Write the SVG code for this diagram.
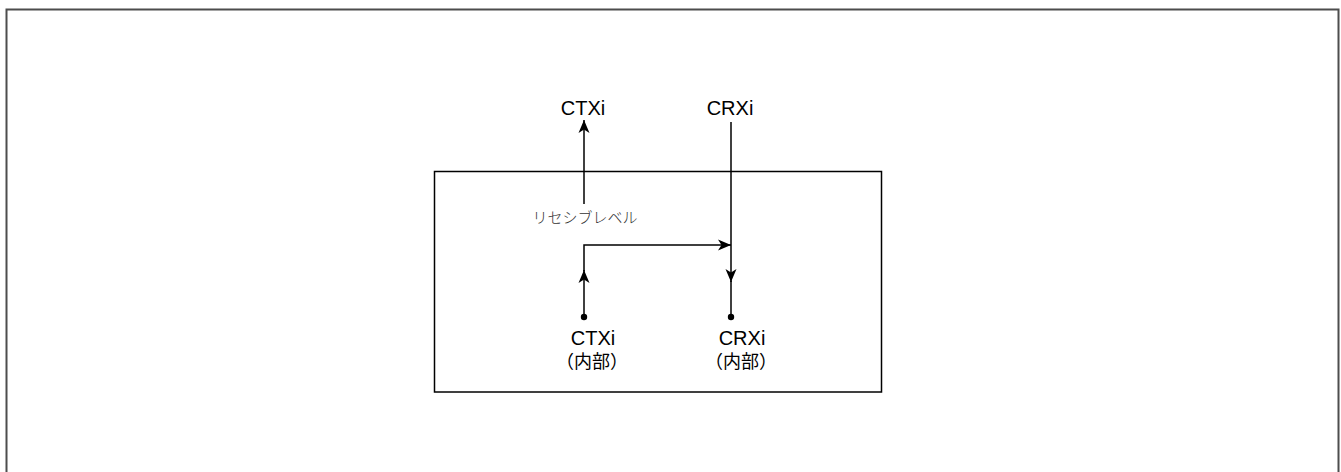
<svg xmlns="http://www.w3.org/2000/svg" width="1341" height="472" viewBox="0 0 1341 472">
<style>
.lbl{font-family:"Liberation Sans",Arial,sans-serif;font-size:20px;fill:#000;text-anchor:middle}
.jp{font-family:"Noto Sans CJK JP","Liberation Sans",sans-serif;font-size:18px;fill:#000;text-anchor:middle}
.jps{font-family:"Noto Sans CJK JP","Liberation Sans",sans-serif;font-size:15px;fill:#333;text-anchor:middle;font-weight:300}
.wire{stroke:#000;stroke-width:1.5;fill:none}
</style>
<defs>
<marker id="arr" viewBox="0 -7 14 14" refX="13" refY="0" markerWidth="14" markerHeight="14" markerUnits="userSpaceOnUse" orient="auto">
<path d="M0,-5.5 L13,0 L0,5.5 L3.5,0 Z" fill="#000"/>
</marker>
</defs>
<rect id="frame" x="6.5" y="9.5" width="1332" height="480" fill="none" stroke="#4d4d4d" stroke-width="2"/>
<g id="block"><rect x="434.5" y="171.5" width="447" height="220.5" fill="none" stroke="#000" stroke-width="1.5"/></g>
<g id="ctxi-out"><text class="lbl" x="583" y="115">CTXi</text></g>
<g id="crxi-in"><text class="lbl" x="730" y="115">CRXi</text></g>
<g id="recessive"><text class="jps" x="585" y="223">リセシブレベル</text></g>
<g id="ctxi-internal"><circle cx="584" cy="317" r="3.2" fill="#000"/><text class="lbl" x="593" y="345">CTXi</text><text class="jp" x="592" y="368">（内部）</text></g>
<g id="crxi-internal"><circle cx="731" cy="317" r="3.2" fill="#000"/><text class="lbl" x="742" y="345">CRXi</text><text class="jp" x="741" y="368">（内部）</text></g>
<g id="connectors">
<line class="wire" x1="584" y1="204" x2="584" y2="120" marker-end="url(#arr)"/>
<line class="wire" x1="584" y1="317" x2="584" y2="270" marker-end="url(#arr)"/>
<polyline class="wire" points="584,271 584,245 731,245" marker-end="url(#arr)"/>
<line class="wire" x1="731" y1="122" x2="731" y2="282" marker-end="url(#arr)"/>
<line class="wire" x1="731" y1="281" x2="731" y2="317"/>
</g>
</svg>
